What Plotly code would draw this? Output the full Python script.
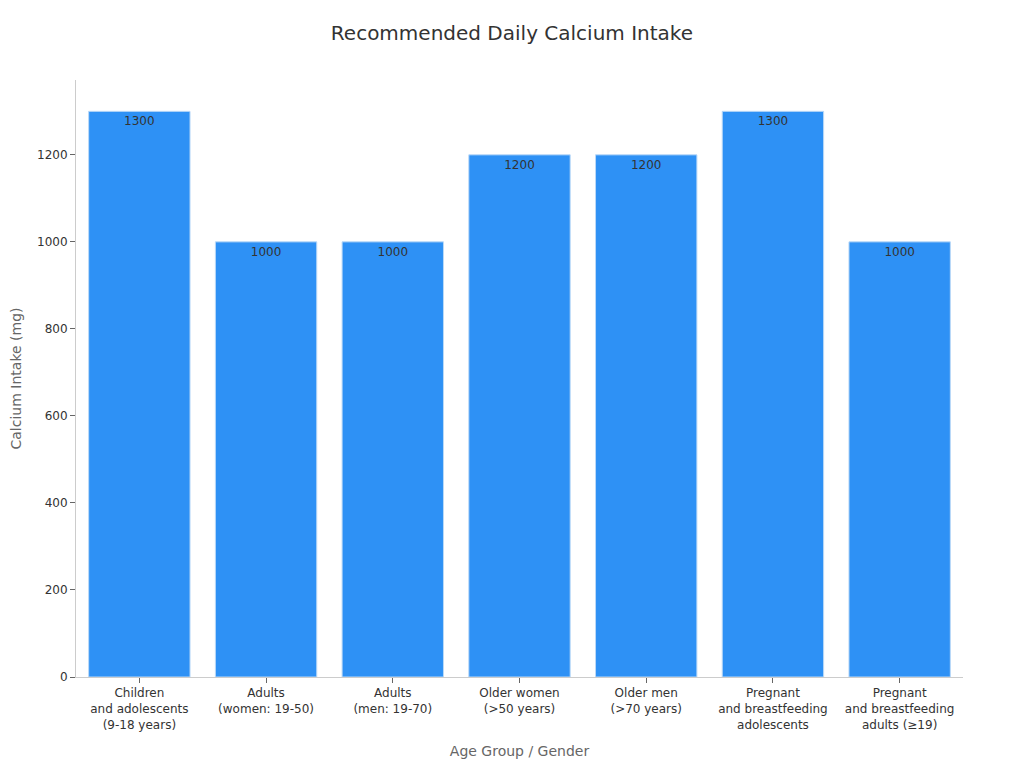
import plotly.graph_objects as go

categories = [
    "Children<br>and adolescents<br>(9-18 years)",
    "Adults<br>(women: 19-50)",
    "Adults<br>(men: 19-70)",
    "Older women<br>(>50 years)",
    "Older men<br>(>70 years)",
    "Pregnant<br>and breastfeeding<br>adolescents",
    "Pregnant<br>and breastfeeding<br>adults (≥19)",
]
values = [1300, 1000, 1000, 1200, 1200, 1300, 1000]

fig = go.Figure(go.Bar(
    x=categories,
    y=values,
    text=[str(v) for v in values],
    textposition="inside",
    insidetextanchor="end",
    textfont=dict(color="#333333", size=12),
    marker=dict(color="#2E91F5", line=dict(color="#BBD9F7", width=1)),
))

fig.update_layout(
    width=1016, height=760,
    font=dict(family="DejaVu Sans", color="#333333"),
    title=dict(text="Recommended Daily Calcium Intake", x=0.496, xanchor="center",
               yref="container", y=0.967, yanchor="middle",
               font=dict(size=20, color="#333333")),
    plot_bgcolor="white", paper_bgcolor="white",
    margin=dict(l=68, r=61, t=72, b=91),
    bargap=0.2,
    showlegend=False,
    xaxis=dict(
        title=dict(text="Age Group / Gender", font=dict(size=14, color="#666666"), standoff=15),
        automargin=False,
        showline=True, linecolor="#CCCCCC", linewidth=1,
        ticks="outside", tickcolor="#666666", ticklen=5,
        tickfont=dict(size=12, color="#333333"),
        showgrid=False,
    ),
    yaxis=dict(
        title=dict(text="Calcium Intake (mg)", font=dict(size=14, color="#666666"), standoff=18),
        automargin=False,
        range=[0, 1372],
        showline=True, linecolor="#CCCCCC", linewidth=1,
        ticks="outside", tickcolor="#666666", ticklen=5,
        tickfont=dict(size=12, color="#333333"),
        showgrid=False, zeroline=False,
        dtick=200,
    ),
)

fig.write_html("out.html")
